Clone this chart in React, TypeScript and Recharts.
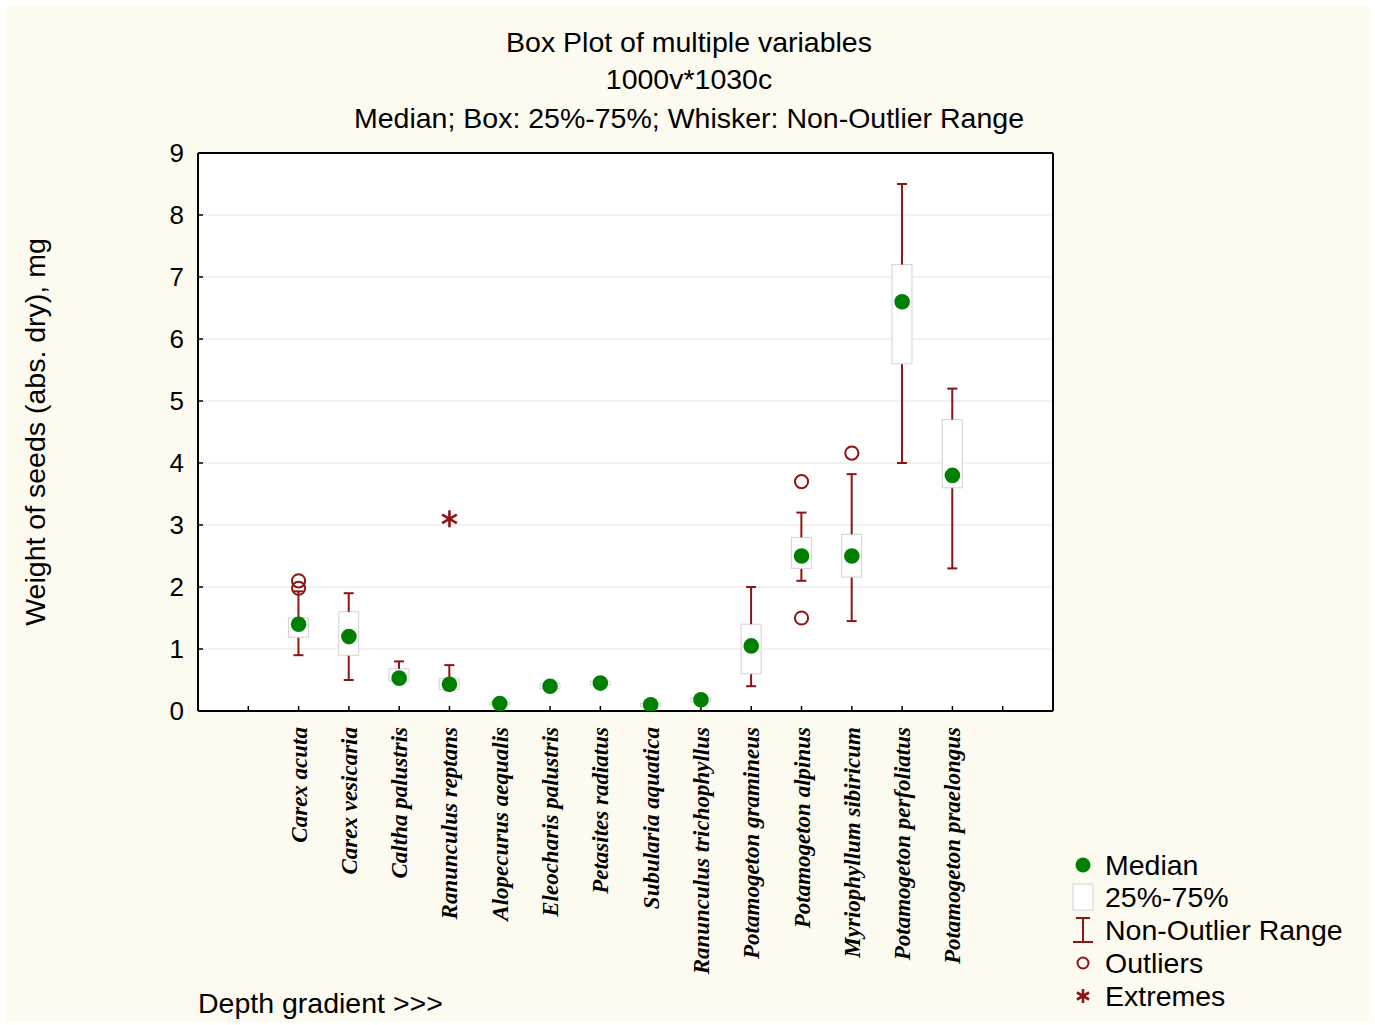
import {
  Bar,
  CartesianGrid,
  ComposedChart,
  Scatter,
  XAxis,
  YAxis,
} from "recharts";

const species = [
  "Carex acuta",
  "Carex vesicaria",
  "Caltha palustris",
  "Ranunculus reptans",
  "Alopecurus aequalis",
  "Eleocharis palustris",
  "Petasites radiatus",
  "Subularia aquatica",
  "Ranunculus trichophyllus",
  "Potamogeton gramineus",
  "Potamogeton alpinus",
  "Myriophyllum sibiricum",
  "Potamogeton perfoliatus",
  "Potamogeton praelongus",
];

const median = [1.4, 1.2, 0.53, 0.43, 0.12, 0.4, 0.45, 0.1, 0.18, 1.05, 2.5, 2.5, 6.6, 3.8];
const q1 = [1.19, 0.9, 0.48, 0.35, 0.1, 0.36, 0.42, 0.08, 0.15, 0.6, 2.3, 2.16, 5.6, 3.6];
const q3 = [1.5, 1.6, 0.68, 0.52, 0.14, 0.44, 0.48, 0.12, 0.21, 1.4, 2.8, 2.85, 7.2, 4.7];
const whiskerLow = [0.9, 0.5, 0.47, 0.34, 0.1, 0.35, 0.42, 0.08, 0.15, 0.4, 2.1, 1.45, 4.0, 2.3];
const whiskerHigh = [1.93, 1.9, 0.8, 0.74, 0.14, 0.47, 0.48, 0.12, 0.21, 2.0, 3.2, 3.82, 8.5, 5.2];

// outliers / extremes: [species index, value]
const outliers: [number, number][] = [
  [0, 2.1],
  [0, 1.98],
  [10, 3.7],
  [10, 1.5],
  [11, 4.16],
];
const extremes: [number, number][] = [[3, 3.1]];

const xTicks = [1, 2, 3, 4, 5, 6, 7, 8, 9, 10, 11, 12, 13, 14, 15, 16];
const yTicks = [0, 1, 2, 3, 4, 5, 6, 7, 8, 9];

const WHISKER = "#8c1414";
const GREEN = "#008000";
const SANS = '"Liberation Sans", Arial, sans-serif';

const rows = species.map((name, i) => ({
  name,
  pos: i + 2,
  median: median[i],
  base: whiskerLow[i],
  lowW: q1[i] - whiskerLow[i],
  box: q3[i] - q1[i],
  highW: whiskerHigh[i] - q3[i],
}));

const outlierRows = outliers.map(([i, v]) => ({ pos: i + 2, val: v }));
const extremeRows = extremes.map(([i, v]) => ({ pos: i + 2, val: v }));

function LowWhisker(props: any) {
  const { x, y, width, height } = props;
  const cx = x + width / 2;
  return (
    <g stroke={WHISKER} strokeWidth={2}>
      <line x1={cx} x2={cx} y1={y} y2={y + height} />
      <line x1={cx - 5} x2={cx + 5} y1={y + height} y2={y + height} />
    </g>
  );
}

function HighWhisker(props: any) {
  const { x, y, width, height } = props;
  const cx = x + width / 2;
  return (
    <g stroke={WHISKER} strokeWidth={2}>
      <line x1={cx} x2={cx} y1={y} y2={y + height} />
      <line x1={cx - 5} x2={cx + 5} y1={y} y2={y} />
    </g>
  );
}

function BoxShape(props: any) {
  const { x, y, width, height } = props;
  return <rect x={x} y={y} width={width} height={Math.max(height, 1)} fill="#fff" stroke="#d2d2d2" strokeWidth={1} />;
}

function MedianDot(props: any) {
  return <circle cx={props.cx} cy={props.cy} r={7.8} fill={GREEN} />;
}

function OutlierDot(props: any) {
  return <circle cx={props.cx} cy={props.cy} r={6.6} fill="none" stroke={WHISKER} strokeWidth={2} />;
}

function Asterisk({ cx, cy, size = 8 }: any) {
  const angles = [90, 30, 150];
  return (
    <g stroke={WHISKER} strokeWidth={2.6}>
      {angles.map((a) => {
        const r = (a * Math.PI) / 180;
        return (
          <line
            key={a}
            x1={cx - size * Math.cos(r)}
            y1={cy - size * Math.sin(r)}
            x2={cx + size * Math.cos(r)}
            y2={cy + size * Math.sin(r)}
          />
        );
      })}
    </g>
  );
}

function ExtremeDot(props: any) {
  return <Asterisk cx={props.cx} cy={props.cy} size={8.5} />;
}

function SpeciesTick(props: any) {
  const { x, y, payload } = props;
  const label = species[payload.value - 2];
  if (!label) return null;
  return (
    <text
      x={x}
      y={y}
      dy={8}
      transform={`rotate(-90, ${x}, ${y})`}
      textAnchor="end"
      fontFamily='"Liberation Serif", "Times New Roman", serif'
      fontWeight="bold"
      fontStyle="italic"
      fontSize={23}
      fill="#000"
    >
      {label}
    </text>
  );
}

function LegendRow({ top, icon, label }: { top: number; icon: any; label: string }) {
  return (
    <div style={{ position: "absolute", left: 1068, top: top - 16, height: 32, display: "flex", alignItems: "center" }}>
      <svg width={30} height={32} style={{ display: "block" }}>
        {icon}
      </svg>
      <span style={{ marginLeft: 7, fontSize: 28.5, fontFamily: SANS, color: "#000", whiteSpace: "nowrap" }}>{label}</span>
    </div>
  );
}

export default function App() {
  const titleStyle = (top: number): any => ({
    position: "absolute",
    left: 0,
    width: 1378,
    top: top - 16,
    lineHeight: "32px",
    textAlign: "center",
    fontSize: 28.5,
    fontFamily: SANS,
    color: "#000",
    whiteSpace: "nowrap",
  });
  const axisLine = { stroke: "#000", strokeWidth: 2 };
  const tickLine = { stroke: "#000", strokeWidth: 1.5 };
  return (
    <div style={{ position: "absolute", left: 0, top: 0, width: 1375, height: 1025, background: "#fff" }}>
      <div style={{ position: "absolute", left: 6, top: 6, width: 1363, height: 1016, background: "#fdfaf0" }} />
      <div style={titleStyle(42)}>Box Plot of multiple variables</div>
      <div style={titleStyle(79)}>1000v*1030c</div>
      <div style={titleStyle(118)}>Median; Box: 25%-75%; Whisker: Non-Outlier Range</div>
      <div
        style={{
          position: "absolute",
          left: 35,
          top: 432,
          transform: "translate(-50%, -50%) rotate(-90deg)",
          whiteSpace: "nowrap",
          fontSize: 28.5,
          fontFamily: SANS,
          color: "#000",
        }}
      >
        Weight of seeds (abs. dry), mg
      </div>
      <div
        style={{
          position: "absolute",
          left: 198,
          top: 987,
          fontSize: 28.5,
          fontFamily: SANS,
          color: "#000",
          whiteSpace: "nowrap",
        }}
      >
        Depth gradient &gt;&gt;&gt;
      </div>

      <div style={{ position: "absolute", left: 0, top: 0 }}>
        <ComposedChart
          width={1375}
          height={1025}
          data={rows}
          margin={{ top: 152, right: 321, bottom: 284, left: 158 }}
        >
          <CartesianGrid horizontal vertical={false} stroke="#e3e3e3" fill="#fff" />
          <XAxis
            dataKey="pos"
            type="number"
            domain={[0, 17]}
            ticks={xTicks}
            interval={0}
            allowDataOverflow
            height={30}
            tickSize={-5}
            tickMargin={21}
            axisLine={axisLine}
            tickLine={tickLine}
            tick={<SpeciesTick />}
          />
          <XAxis
            xAxisId="top"
            orientation="top"
            dataKey="pos"
            type="number"
            domain={[0, 17]}
            ticks={xTicks}
            interval={0}
            allowDataOverflow
            height={1}
            tickSize={-5}
            axisLine={axisLine}
            tickLine={tickLine}
            tick={false}
          />
          <YAxis
            type="number"
            domain={[0, 9]}
            ticks={yTicks}
            interval={0}
            allowDataOverflow
            width={40}
            tickSize={-5}
            tickMargin={19}
            axisLine={axisLine}
            tickLine={tickLine}
            tick={{ fontSize: 26, fontFamily: SANS, fill: "#000" }}
          />
          <YAxis
            yAxisId="right"
            orientation="right"
            type="number"
            domain={[0, 9]}
            ticks={yTicks}
            interval={0}
            allowDataOverflow
            width={1}
            tickSize={-5}
            axisLine={axisLine}
            tickLine={tickLine}
            tick={false}
          />
          <Bar dataKey="base" stackId="box" barSize={20} fill="none" isAnimationActive={false} />
          <Bar dataKey="lowW" stackId="box" barSize={20} shape={<LowWhisker />} isAnimationActive={false} />
          <Bar dataKey="box" stackId="box" barSize={20} shape={<BoxShape />} isAnimationActive={false} />
          <Bar dataKey="highW" stackId="box" barSize={20} shape={<HighWhisker />} isAnimationActive={false} />
          <Scatter dataKey="median" shape={<MedianDot />} isAnimationActive={false} />
          <Scatter data={outlierRows} dataKey="val" shape={<OutlierDot />} isAnimationActive={false} />
          <Scatter data={extremeRows} dataKey="val" shape={<ExtremeDot />} isAnimationActive={false} />
          {/* invisible series so the top and right axes are in use */}
          <Scatter xAxisId="top" yAxisId="right" dataKey="median" shape={() => <g />} isAnimationActive={false} />
        </ComposedChart>
      </div>

      <LegendRow top={865} label="Median" icon={<circle cx={15} cy={16} r={7.5} fill={GREEN} />} />
      <LegendRow
        top={897}
        label="25%-75%"
        icon={<rect x={5} y={3} width={20} height={26} fill="#fff" stroke="#d2d2d2" />}
      />
      <LegendRow
        top={930}
        label="Non-Outlier Range"
        icon={
          <g stroke={WHISKER} strokeWidth={2}>
            <line x1={8} x2={22} y1={4} y2={4} />
            <line x1={15} x2={15} y1={4} y2={28} />
            <line x1={5} x2={25} y1={28} y2={28} />
          </g>
        }
      />
      <LegendRow
        top={963}
        label="Outliers"
        icon={<circle cx={15} cy={16} r={5.5} fill="none" stroke={WHISKER} strokeWidth={2} />}
      />
      <LegendRow top={996} label="Extremes" icon={<Asterisk cx={15} cy={16} size={7} />} />
    </div>
  );
}
